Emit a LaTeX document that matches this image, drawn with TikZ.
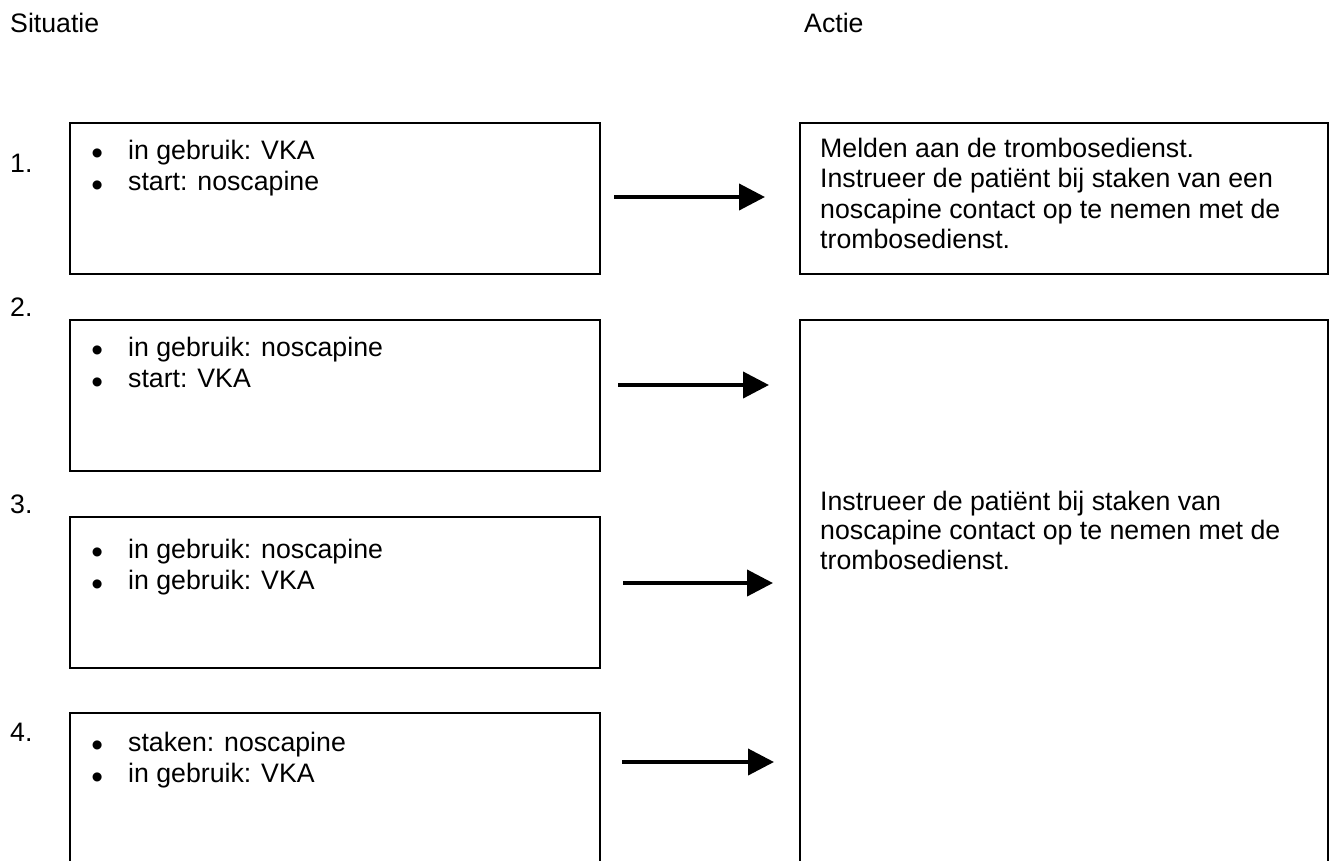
\documentclass[tikz,border=0pt]{standalone}
\usepackage{fontspec}
\setmainfont{Liberation Sans}
\usetikzlibrary{arrows.meta}
\newcommand{\blt}{\makebox[36.8pt][l]{\raisebox{-5.7pt}{\scalebox{1.25}{\textbullet}}}}
\begin{document}
\begin{tikzpicture}[x=1pt,y=-1pt,
  box/.style={draw, line width=2pt, inner sep=0pt, anchor=north west},
  txt/.style={anchor=base west, inner sep=0pt, font=\fontsize{26.7}{30}\selectfont},
  conn/.style={line width=4pt, -{Triangle[length=26pt,width=26pt]}}]
\useasboundingbox (0,0) rectangle (1330,860);
\clip (0,0) rectangle (1330,860);
% headers
\node[txt] (hs) at (10,32) {Situatie};
\node[txt] (ha) at (804,32) {Actie};
% numbers
\node[txt] (n1) at (10,172) {1.};
\node[txt] (n2) at (10,316) {2.};
\node[txt] (n3) at (10,513) {3.};
\node[txt] (n4) at (10,741) {4.};
% situation boxes
\node[box, minimum width=530pt, minimum height=151pt] (s1) at (69,122) {};
\node[box, minimum width=530pt, minimum height=151pt] (s2) at (69,319) {};
\node[box, minimum width=530pt, minimum height=151pt] (s3) at (69,516) {};
\node[box, minimum width=530pt, minimum height=200pt] (s4) at (69,712) {};
% action boxes
\node[box, minimum width=528pt, minimum height=151pt] (a1) at (799,122) {};
\node[box, minimum width=528pt, minimum height=600pt] (a2) at (799,319) {};
% situation texts
\node[txt] (t1a) at (91.2,159) {\blt in gebruik: VKA};
\node[txt] (t1b) at (91.2,190.5) {\blt start: noscapine};
\node[txt] (t2a) at (91.2,356) {\blt in gebruik: noscapine};
\node[txt] (t2b) at (91.2,387.5) {\blt start: VKA};
\node[txt] (t3a) at (91.2,558) {\blt in gebruik: noscapine};
\node[txt] (t3b) at (91.2,589.5) {\blt in gebruik: VKA};
\node[txt] (t4a) at (91.2,751) {\blt staken: noscapine};
\node[txt] (t4b) at (91.2,782.5) {\blt in gebruik: VKA};
% action texts
\node[txt] (r1a) at (820,157) {Melden aan de trombosedienst.};
\node[txt] (r1b) at (820,187.5) {Instrueer de patiënt bij staken van een};
\node[txt] (r1c) at (820,218) {noscapine contact op te nemen met de};
\node[txt] (r1d) at (820,248.5) {trombosedienst.};
\node[txt] (r2a) at (820,510) {Instrueer de patiënt bij staken van};
\node[txt] (r2b) at (820,539.5) {noscapine contact op te nemen met de};
\node[txt] (r2c) at (820,569) {trombosedienst.};
% arrows
\coordinate (p1s) at (614,197); \coordinate (p1e) at (765,197);
\coordinate (p2s) at (618,385); \coordinate (p2e) at (769,385);
\coordinate (p3s) at (623,583); \coordinate (p3e) at (773,583);
\coordinate (p4s) at (622,762); \coordinate (p4e) at (774,762);
\draw[conn] (p1s) -- (p1e);
\draw[conn] (p2s) -- (p2e);
\draw[conn] (p3s) -- (p3e);
\draw[conn] (p4s) -- (p4e);
\end{tikzpicture}
\end{document}
